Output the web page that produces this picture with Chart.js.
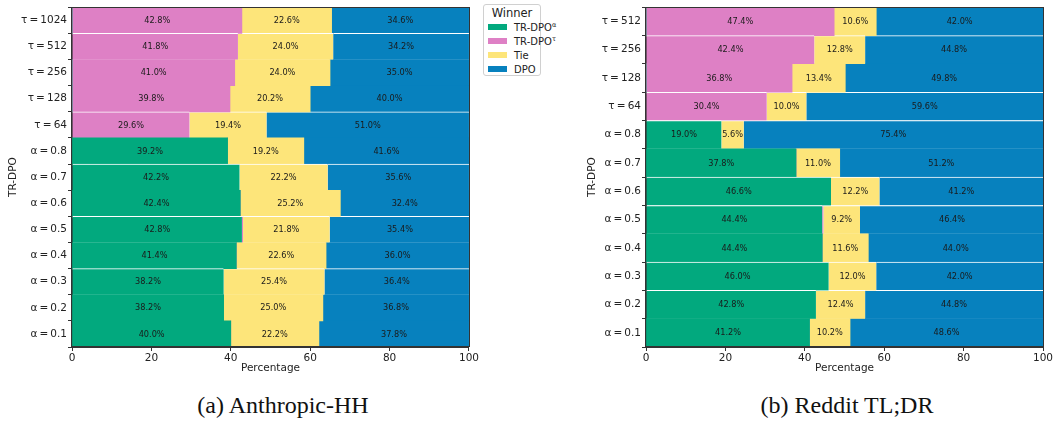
<!DOCTYPE html>
<html><head><meta charset="utf-8">
<script src="https://cdn.jsdelivr.net/npm/chart.js@4/dist/chart.umd.min.js"></script>
<style>
body{margin:0;background:#fff;width:1058px;height:421px;position:relative;overflow:hidden;font-family:"DejaVu Sans",sans-serif;}
canvas{position:absolute;top:0;}
#c1{left:0}
#c2{left:579px}
.cap{position:absolute;font-family:"Liberation Serif","Times New Roman",serif;font-size:24px;line-height:27px;color:#111;top:392px;transform:translateX(-50%);white-space:nowrap}
#legend{position:absolute;left:483px;top:4px;width:58px;height:72px;border:1px solid #d0d0d0;border-radius:3px;background:#fff;box-sizing:border-box;padding-top:1px;color:#222}
#legend .lt{text-align:center;font-size:11.5px;line-height:15px;}
#legend .li{font-size:10px;line-height:14px;height:14px;white-space:nowrap;padding-left:4px}
#legend .sw{display:inline-block;width:19px;height:6px;margin-right:7px;vertical-align:middle;position:relative;top:-1px}
#legend sup{font-size:6.5px;line-height:0;vertical-align:super}
</style>
</head><body>
<canvas id="c1" width="480" height="385"></canvas>
<canvas id="c2" width="479" height="385"></canvas>
<div id="legend">
 <div class="lt">Winner</div>
 <div class="li"><span class="sw" style="background:#02A97E"></span>TR-DPO<sup>α</sup></div>
 <div class="li"><span class="sw" style="background:#DE80C5"></span>TR-DPO<sup>τ</sup></div>
 <div class="li"><span class="sw" style="background:#FDE57A"></span>Tie</div>
 <div class="li"><span class="sw" style="background:#0781BE"></span>DPO</div>
</div>
<div class="cap" style="left:283px">(a) Anthropic-HH</div>
<div class="cap" style="left:847px">(b) Reddit TL;DR</div>
<script>
// ---- Data: (a) Anthropic-HH ----
const leftCategories = ["τ\u2009=\u20091024","τ\u2009=\u2009512","τ\u2009=\u2009256","τ\u2009=\u2009128","τ\u2009=\u200964","α\u2009=\u20090.8","α\u2009=\u20090.7","α\u2009=\u20090.6","α\u2009=\u20090.5","α\u2009=\u20090.4","α\u2009=\u20090.3","α\u2009=\u20090.2","α\u2009=\u20090.1"];
const leftAlpha = [0,0,0,0,0,39.2,42.2,42.4,42.8,41.4,38.2,38.2,40.0];
const leftTau   = [42.8,41.8,41.0,39.8,29.6,0,0,0,0.3,0,0,0,0];
const leftTie   = [22.6,24.0,24.0,20.2,19.4,19.2,22.2,25.2,21.8,22.6,25.4,25.0,22.2];
const leftDpo   = [34.6,34.2,35.0,40.0,51.0,41.6,35.6,32.4,35.4,36.0,36.4,36.8,37.8];

// ---- Data: (b) Reddit TL;DR ----
const rightCategories = ["τ\u2009=\u2009512","τ\u2009=\u2009256","τ\u2009=\u2009128","τ\u2009=\u200964","α\u2009=\u20090.8","α\u2009=\u20090.7","α\u2009=\u20090.6","α\u2009=\u20090.5","α\u2009=\u20090.4","α\u2009=\u20090.3","α\u2009=\u20090.2","α\u2009=\u20090.1"];
const rightAlpha = [0,0,0,0,19.0,37.8,46.6,44.4,44.4,46.0,42.8,41.2];
const rightTau   = [47.4,42.4,36.8,30.4,0,0,0,0.3,0,0,0,0];
const rightTie   = [10.6,12.8,13.4,10.0,5.6,11.0,12.2,9.2,11.6,12.0,12.4,10.2];
const rightDpo   = [42.0,44.8,49.8,59.6,75.4,51.2,41.2,46.4,44.0,42.0,44.8,48.6];

const seriesNames = ["TR-DPOα","TR-DPOτ","Tie","DPO"];
const xTickValues = [0,20,40,60,80,100];

// ---- Styles ----
const seriesColors = ["#02A97E","#DE80C5","#FDE57A","#0781BE"];
const leftWhiteTop  = [false,true,false,false,true,false,true,false,true,false,true,false,false];
const rightWhiteTop = [false,true,false,true,true,false,true,true,false,true,true,false];

const FONT = "'DejaVu Sans', sans-serif";
const TXT = "#222";

const barLabels = {
  id:'barLabels',
  afterDatasetsDraw(chart){
    const ctx = chart.ctx;
    ctx.save();
    ctx.font = "8.2px " + FONT;
    ctx.fillStyle = "#1a1a1a";
    ctx.textAlign = "center";
    ctx.textBaseline = "middle";
    chart.data.datasets.forEach((ds,di)=>{
      const meta = chart.getDatasetMeta(di);
      meta.data.forEach((el,i)=>{
        const v = ds.data[i];
        if (v < 1) return;
        const p = el.getProps(['x','y','base'], true);
        ctx.fillText(v.toFixed(1) + "%", (p.x + p.base)/2, p.y + 0.5);
      });
    });
    ctx.restore();
  }
};
const frame = {
  id:'frame',
  afterDraw(chart){
    const a = chart.chartArea, ctx = chart.ctx;
    ctx.save();
    ctx.strokeStyle = "#333";
    ctx.lineWidth = 1;
    ctx.strokeRect(Math.round(a.left)-0.5, Math.round(a.top)+0.5, Math.round(a.right-a.left)+1, Math.round(a.bottom-a.top)-1);
    ctx.restore();
  }
};

function makeChart(id, categories, series, whiteTop, yWidth, padRight){
  const datasets = series.map((data,k)=>({
    label: seriesNames[k],
    data: data,
    backgroundColor: seriesColors[k],
    borderColor: "#ffffff",
    borderSkipped: false,
    borderWidth: c => whiteTop[c.dataIndex] ? {top:1,bottom:0,left:0,right:0} : 0,
    categoryPercentage: 1.0,
    barPercentage: 1.0
  }));
  return new Chart(document.getElementById(id), {
    type:'bar',
    data:{labels:categories, datasets},
    options:{
      indexAxis:'y',
      responsive:false,
      animation:false,
      devicePixelRatio:1,
      layout:{padding:{top:4,right:padRight,left:0,bottom:0}},
      plugins:{legend:{display:false},tooltip:{enabled:false}},
      scales:{
        x:{
          type:'linear', stacked:true, min:0, max:100,
          afterBuildTicks: s => { s.ticks = xTickValues.map(v=>({value:v})); },
          afterFit: s => { s.height = 38; },
          grid:{drawOnChartArea:false, drawTicks:true, tickLength:4, color:"#333"},
          border:{display:true, color:"#333", width:1},
          ticks:{font:{family:FONT,size:10.5}, color:TXT, padding:1, maxRotation:0},
          title:{display:true, text:"Percentage", font:{family:FONT,size:10.5}, color:TXT, padding:{top:0,bottom:10}}
        },
        y:{
          type:'category', stacked:true,
          afterFit: s => { s.width = yWidth; },
          grid:{drawOnChartArea:false, drawTicks:true, tickLength:4, color:"#333"},
          border:{display:true, color:"#333", width:1},
          ticks:{font:{family:FONT,size:10.5}, color:TXT, padding:1, autoSkip:false},
          title:{display:true, text:"TR-DPO", font:{family:FONT,size:10.5}, color:TXT, padding:{top:6.7,bottom:0}}
        }
      }
    },
    plugins:[barLabels, frame]
  });
}

makeChart('c1', leftCategories, [leftAlpha,leftTau,leftTie,leftDpo], leftWhiteTop, 72, 10);
makeChart('c2', rightCategories, [rightAlpha,rightTau,rightTie,rightDpo], rightWhiteTop, 67, 15);
</script>
</body></html>
